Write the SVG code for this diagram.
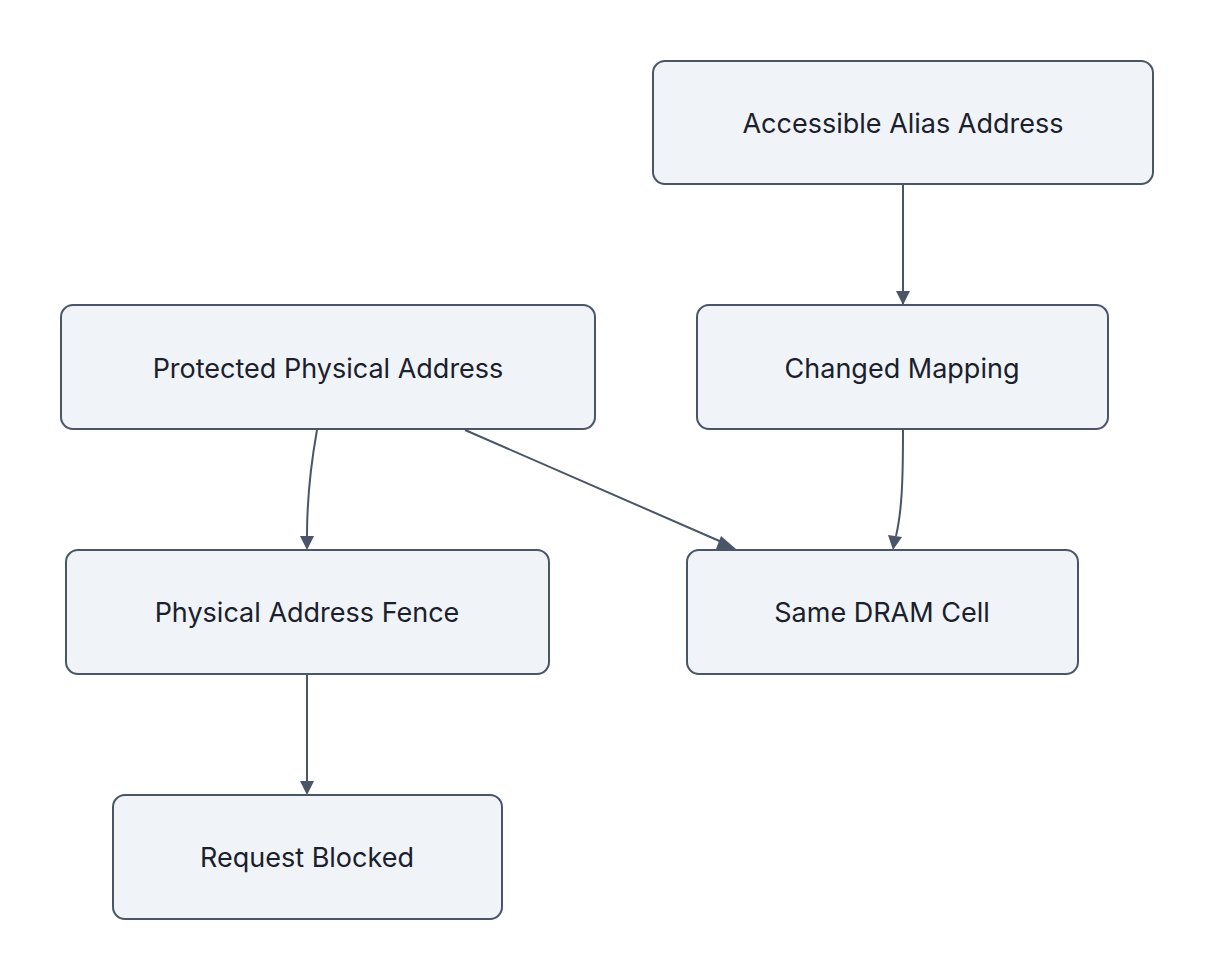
<svg xmlns="http://www.w3.org/2000/svg" width="1214" height="980" viewBox="0 0 1214 980">
<style>
.n rect{fill:#f0f4f8;stroke:#4a5568;stroke-width:2}
.n text{font-family:Inter,"Noto Sans",sans-serif;font-size:27px;fill:#1a202c;text-anchor:middle;dominant-baseline:central}
.e path{fill:none;stroke:#4a5568;stroke-width:2;marker-end:url(#a)}
</style>
<defs><marker id="a" viewBox="0 0 10 10" refX="9" refY="5" markerWidth="7" markerHeight="7" orient="auto" markerUnits="userSpaceOnUse"><path d="M0,0L10,5L0,10z" fill="#4a5568"/></marker></defs>
<rect width="1214" height="980" fill="#fff"/>
<g class="e">
<path d="M903,185V304" style="marker-end:none"/>
<polygon points="896,291 910,291 903,305" fill="#4a5568"/>
<path d="M317,430C308,480 307,510 307,536" style="marker-end:none"/>
<polygon points="300,536 314,536 307,550" fill="#4a5568"/>
<path d="M465,430L724,543" style="marker-end:none"/>
<polygon points="721,536 736,549 716,549" fill="#4a5568"/>
<path d="M903,430C903,480 902,510 896,536" style="marker-end:none"/>
<polygon points="888,535 902,537 893,550" fill="#4a5568"/>
<path d="M307,675V781" style="marker-end:none"/>
<polygon points="300,781 314,781 307,795" fill="#4a5568"/>
</g>
<g class="n" id="alias"><rect x="653" y="61" width="500" height="123" rx="12"/><text x="903" y="123">Accessible Alias Address</text></g>
<g class="n" id="protected"><rect x="61" y="305" width="534" height="124" rx="12"/><text x="328" y="368">Protected Physical Address</text></g>
<g class="n" id="mapping"><rect x="697" y="305" width="411" height="124" rx="12"/><text x="902" y="368">Changed Mapping</text></g>
<g class="n" id="fence"><rect x="66" y="550" width="483" height="124" rx="12"/><text x="307" y="612">Physical Address Fence</text></g>
<g class="n" id="dram"><rect x="687" y="550" width="391" height="124" rx="12"/><text x="882" y="612">Same DRAM Cell</text></g>
<g class="n" id="blocked"><rect x="113" y="795" width="389" height="124" rx="12"/><text x="307" y="857">Request Blocked</text></g>
</svg>
